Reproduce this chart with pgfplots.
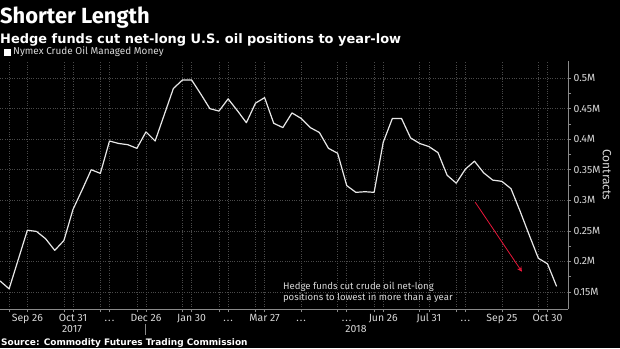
\documentclass[border=0pt]{standalone}
\usepackage{fontspec}
\setmainfont{Fira Sans}
\newfontfamily\dvs{DejaVu Sans}
\usepackage{pgfplots}
\usetikzlibrary{arrows.meta}
\pgfplotsset{compat=1.18}
\definecolor{gridc}{HTML}{4a4a4a}
\definecolor{axc}{HTML}{8a8a8a}
\definecolor{txt}{HTML}{d8d8d8}
\definecolor{linec}{HTML}{e8e8e8}
\definecolor{arrowred}{HTML}{e8173a}
\pgfplotstableread{
w v
-3 0.168
-2 0.155
-1 0.203
0 0.251
1 0.249
2 0.237
3 0.218
4 0.234
5 0.285
6 0.317
7 0.350
8 0.344
9 0.397
10 0.393
11 0.391
12 0.385
13 0.412
14 0.397
15 0.440
16 0.483
17 0.497
18 0.497
19 0.474
20 0.450
21 0.446
22 0.466
23 0.447
24 0.427
25 0.459
26 0.468
27 0.426
28 0.419
29 0.443
30 0.434
31 0.419
32 0.411
33 0.385
34 0.377
35 0.324
36 0.313
37 0.314
38 0.313
39 0.395
40 0.434
41 0.434
42 0.402
43 0.393
44 0.388
45 0.378
46 0.341
47 0.328
48 0.351
49 0.364
50 0.345
51 0.333
52 0.331
53 0.319
54 0.282
55 0.243
56 0.205
57 0.196
58 0.159
}\datatable
\newcommand{\dd}{.\kern1bp.\kern1bp.}
\begin{document}
\begin{tikzpicture}[x=1bp,y=1bp]
\useasboundingbox (0,-39) rectangle (620,309);
\fill[black] (0,-39) rectangle (620,309);
\begin{axis}[
  at={(0,0)}, anchor=south west,
  scale only axis, width=568bp, height=248bp,
  xmin=-3, xmax=59.25, ymin=0.122, ymax=0.528,
  axis line style={draw=none},
  xtick={0,5,9,13,18,22,26,30,35,39,44,48,52,57},
  xticklabels={Sep 26,Oct 31,\dd,Dec 26,Jan 30,\dd,Mar 27,\dd,\dd,Jun 26,Jul 31,\dd,Sep 25,Oct 30},
  minor xtick={-2,4,8,12,17,21,25,34,38,43,47,56},
  ytick={0.15,0.2,0.25,0.3,0.35,0.4,0.45,0.5},
  yticklabels={0.15M,0.2M,0.25M,0.3M,0.35M,0.4M,0.45M,0.5M},
  minor ytick={0.175,0.225,0.275,0.325,0.375,0.425,0.475},
  yticklabel pos=right,
  xtick pos=bottom, ytick pos=right,
  tick align=outside,
  major tick length=3bp, minor tick length=3bp,
  every tick/.style={axc, line width=0.6bp},
  xmajorgrids, xminorgrids, ymajorgrids,
  major grid style={gridc, dotted, line width=0.6bp},
  minor grid style={gridc, dotted, line width=0.6bp},
  ticklabel style={font=\fontsize{10.5}{11}\selectfont, text=txt},
  xticklabel style={text height=7.5bp, text depth=2bp, yshift=1.5bp},
  yticklabel style={xshift=-1bp},
  clip=false,
]
\draw[axc, line width=0.8bp] (rel axis cs:0,0) -- (rel axis cs:1,0);
\draw[axc, line width=0.8bp] (rel axis cs:1,0) -- (rel axis cs:1,1);
\addplot[linec, line width=1.2bp, line join=round] table[x=w, y=v] {\datatable};
\draw[arrowred, line width=0.8bp, -{Stealth[length=5bp,width=5bp,open]}] (axis cs:49.07,0.297) -- (axis cs:54.2,0.183);
\node[anchor=north west, align=left, text=txt, font=\fontsize{9.6}{11.2}\selectfont, inner sep=0pt] at (axis cs:28.0,0.1665) {Hedge funds cut crude oil net-long\\positions to lowest in more than a year};
\end{axis}
\node[anchor=base west, text=white, font=\fontsize{22}{24}\selectfont\bfseries, inner sep=0pt] at (0,285.5) {Shorter Length};
\node[anchor=base west, text=white, font=\dvs\fontsize{13}{15}\selectfont\bfseries, inner sep=0pt] at (0,265.5) {Hedge funds cut net-long U.S. oil positions to year-low};
\fill[white] (4,253.5) rectangle (11,260.5);
\node[anchor=west, text=txt, font=\fontsize{10}{11}\selectfont, inner sep=0pt] at (13,257) {Nymex Crude Oil Managed Money};
\node[text=txt, font=\fontsize{10.5}{11}\selectfont] at (72,-20.5) {2017};
\node[text=txt, font=\fontsize{10.5}{11}\selectfont] at (356,-20.5) {2018};
\draw[axc, line width=0.6bp] (145.7,-15) -- (145.7,-26);
\node[anchor=west, text=white, font=\dvs\fontsize{9}{10}\selectfont\bfseries, inner sep=0pt] at (1,-33.7) {Source: Commodity Futures Trading Commission};
\node[rotate=-90, text=txt, font=\fontsize{12}{13}\selectfont] at (607,134) {Contracts};
\end{tikzpicture}
\end{document}
